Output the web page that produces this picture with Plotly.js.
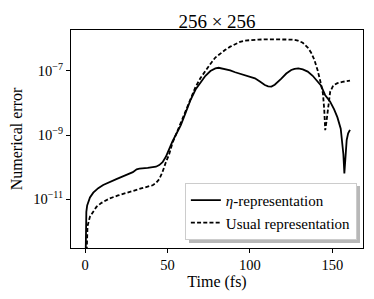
<!DOCTYPE html>
<html>
<head>
<meta charset="utf-8">
<script src="https://cdn.plot.ly/plotly-3.0.1.min.js"></script>
<style>html,body{margin:0;padding:0;background:#fff;}#chart{width:374px;height:299px;}</style>
</head>
<body>
<div id="chart"></div>
<script>
// eta-representation
const tEta = [0.3, 0.5, 0.8, 1.3, 2, 3, 5, 8, 11, 15, 19, 24, 29, 31.3, 33, 38, 43, 45, 47, 49, 51, 53, 55, 58, 61, 64, 67, 70, 73, 76, 79, 81, 85, 88, 91, 94, 97, 100, 103, 106, 109, 111, 113, 115, 117, 119, 122, 125, 127, 129.3, 132, 135, 138, 141, 143, 145.5, 148.5, 151, 153, 155, 156, 156.6, 157.2, 157.8, 158.6, 159.5, 160.6];
const errEta = [1e-13, 1.26e-12, 3.98e-12, 6.31e-12, 8.3e-12, 1.12e-11, 1.58e-11, 2.19e-11, 2.75e-11, 3.47e-11, 4.17e-11, 5.37e-11, 6.92e-11, 8.51e-11, 8.91e-11, 9.33e-11, 1.02e-10, 1.15e-10, 1.41e-10, 2.09e-10, 3.8e-10, 6.31e-10, 1.0e-9, 2.0e-9, 5.0e-9, 1.26e-8, 2.63e-8, 4.47e-8, 7.08e-8, 1.0e-7, 1.2e-7, 1.26e-7, 1.17e-7, 1.05e-7, 9.12e-8, 8.13e-8, 7.41e-8, 6.76e-8, 5.89e-8, 4.68e-8, 3.63e-8, 3.31e-8, 3.24e-8, 3.72e-8, 4.57e-8, 5.75e-8, 8.32e-8, 1.07e-7, 1.17e-7, 1.2e-7, 1.12e-7, 9.55e-8, 7.08e-8, 4.68e-8, 3.55e-8, 1.78e-8, 1.12e-8, 6.31e-9, 3.55e-9, 1.58e-9, 6.31e-10, 2.51e-10, 6.31e-11, 2.51e-10, 6.92e-10, 1.12e-9, 1.45e-9];
// usual representation
const tUsual = [0.8, 1.0, 1.5, 3, 5, 7, 10, 15, 20, 27, 34, 41, 43, 45, 47, 49, 51, 53, 55, 58, 61, 64, 67, 70, 73, 76, 79, 82, 85, 88, 91, 94, 97, 100, 105, 110, 120, 126, 129, 132, 135, 137, 139, 141, 143, 144.2, 145, 145.6, 146.3, 147, 147.7, 148.6, 150.5, 153, 156, 160.6];
const errUsual = [1e-13, 6.31e-13, 1.41e-12, 2.82e-12, 4.17e-12, 5.75e-12, 7.59e-12, 1.05e-11, 1.29e-11, 1.7e-11, 2.14e-11, 2.69e-11, 3.16e-11, 4.17e-11, 7.08e-11, 1.41e-10, 2.51e-10, 5.62e-10, 1.0e-9, 2.24e-9, 5.62e-9, 1.41e-8, 3.16e-8, 6.03e-8, 1.05e-7, 1.66e-7, 2.63e-7, 3.55e-7, 4.57e-7, 5.75e-7, 6.92e-7, 8.13e-7, 8.91e-7, 9.33e-7, 9.55e-7, 9.77e-7, 9.77e-7, 9.55e-7, 8.91e-7, 7.59e-7, 5.37e-7, 3.8e-7, 2.24e-7, 1.05e-7, 3.98e-8, 2.0e-8, 6.31e-9, 1.41e-9, 2.51e-9, 5.62e-9, 1.12e-8, 2.24e-8, 3.55e-8, 4.17e-8, 4.57e-8, 5.01e-8];

const xTicks = [0, 50, 100, 150];
const yTickVals = [1e-11, 1e-9, 1e-7];
const yTickText = ['10<sup>−11</sup>', '10<sup>−9</sup>', '10<sup>−7</sup>'];
const seriesNames = ['<i>η</i>-representation', 'Usual representation'];
const titleText = '256 × 256';

const FONT = "'Liberation Serif', 'Times New Roman', serif";

const traces = [
  {x: tEta, y: errEta, type: 'scatter', mode: 'lines', name: seriesNames[0],
   line: {color: 'black', width: 1.8}},
  {x: tUsual, y: errUsual, type: 'scatter', mode: 'lines', name: seriesNames[1],
   line: {color: 'black', width: 1.8, dash: '4px,2.2px'}}
];

const layout = {
  width: 374, height: 299,
  margin: {l: 71, r: 11, t: 30, b: 51},
  paper_bgcolor: 'white', plot_bgcolor: 'white',
  font: {family: FONT, color: 'black', size: 14},
  title: {text: titleText, font: {family: FONT, size: 19, color: 'black'},
          x: 0.5, xref: 'paper', xanchor: 'center', y: 1 - 21/299, yref: 'container', yanchor: 'middle'},
  xaxis: {range: [-8.5, 168.5], tickvals: xTicks, ticks: 'outside', ticklen: 4, tickwidth: 1, tickcolor: 'black',
          showline: true, linecolor: 'black', linewidth: 1, mirror: true, showgrid: false, zeroline: false,
          tickfont: {family: FONT, size: 14.5},
          title: {text: 'Time (fs)', font: {family: FONT, size: 16}, standoff: 2}},
  yaxis: {type: 'log', range: [-12.53, -5.72], tickvals: yTickVals, ticktext: yTickText,
          ticks: 'outside', ticklen: 4, tickwidth: 1, tickcolor: 'black',
          showline: true, linecolor: 'black', linewidth: 1, mirror: true, showgrid: false, zeroline: false,
          tickfont: {family: FONT, size: 14.5},
          title: {text: 'Numerical error', font: {family: FONT, size: 16}, standoff: 6}},
  shapes: [
    {type: 'rect', xref: 'paper', yref: 'paper', layer: 'above',
     x0: (189 - 71) / 292, x1: (360 - 71) / 292, y0: (248 - 243) / 218, y1: (248 - 186) / 218,
     fillcolor: '#b8b8b8', line: {width: 0}}
  ],
  showlegend: true,
  legend: {x: 0.979, xanchor: 'right', y: 0.037, yanchor: 'bottom',
           bgcolor: 'white', bordercolor: '#cccccc', borderwidth: 1,
           font: {family: FONT, size: 15}, itemwidth: 30, tracegroupgap: 0}
};

Plotly.newPlot('chart', traces, layout, {displayModeBar: false, staticPlot: true});
</script>
</body>
</html>
